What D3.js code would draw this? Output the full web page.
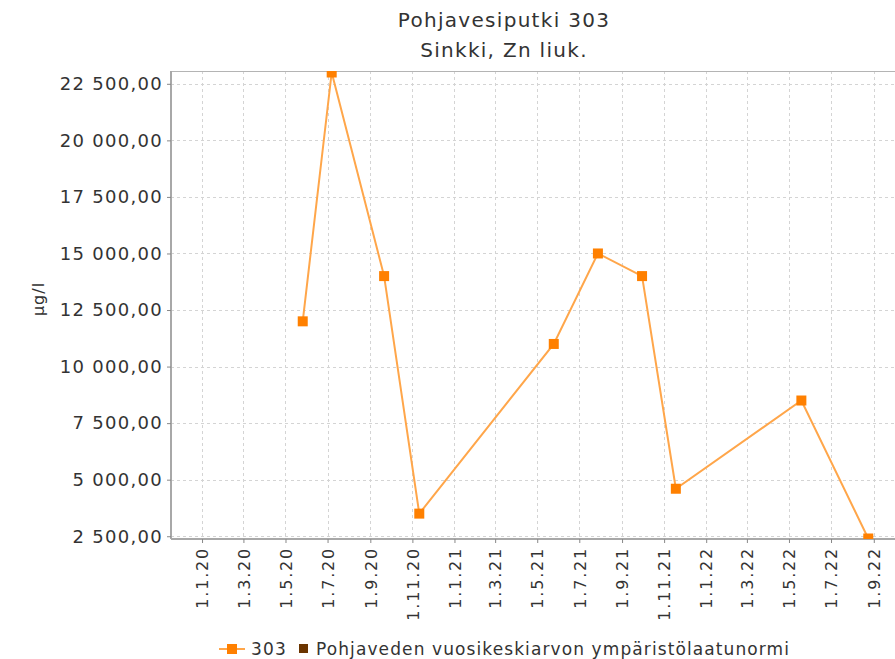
<!DOCTYPE html>
<html>
<head>
<meta charset="utf-8">
<script src="https://cdn.jsdelivr.net/npm/d3@7"></script>
<style>
  body { margin: 0; background: #fff; }
  text { font-family: "DejaVu Sans", sans-serif; fill: #333; }
</style>
</head>
<body>
<script>
// sample dates and measured zinc values (µg/l)
var sampleDates = ["2020-05-26", "2020-07-07", "2020-09-21", "2020-11-11", "2021-05-25",
                   "2021-07-28", "2021-09-30", "2021-11-18", "2022-05-19", "2022-08-24"]
var sampleValues = [12000, 23000, 14000, 3500, 11000, 15000, 14000, 4600, 8500, 2400]

var yTickValues = [2500, 5000, 7500, 10000, 12500, 15000, 17500, 20000, 22500]
var seriesName = "303"
var normName = "Pohjaveden vuosikeskiarvon ympäristölaatunormi"
var titleLines = ["Pohjavesiputki 303", "Sinkki, Zn liuk."]
var yLabel = "µg/l"

var showChart = function () {

  var w = 895
  var h = 659

  // plot area (the original chart is wider and is cropped on the right)
  var pLeft = 171, pTop = 71, pBottom = 539, pRight = 1000

  var parse = d3.timeParse("%Y-%m-%d")
  var data = sampleDates.map(function (d, i) { return { date: parse(d), value: sampleValues[i] } })

  var x = d3.scaleTime()
    .domain([parse("2019-11-17"), parse("2023-03-03")])
    .range([pLeft, pRight])

  var y = d3.scaleLinear()
    .domain([2400, 23000])
    .range([538.5, 72.5])

  var fi = d3.formatLocale({ decimal: ",", thousands: "\u00a0", grouping: [3], currency: ["", ""] })
  var yFmt = fi.format(",.2f")
  var xFmt = d3.timeFormat("%-d.%-m.%y")
  var xTickValues = d3.timeMonth.every(2).range(parse("2020-01-01"), parse("2022-10-01"))

  var svg = d3.select("body").append("svg")
    .attr("width", w)
    .attr("height", h)

  svg.append("defs").append("clipPath").attr("id", "plotclip")
    .append("rect")
    .attr("x", pLeft).attr("y", pTop)
    .attr("width", pRight - pLeft).attr("height", pBottom - pTop)

  // grid
  svg.append("g").selectAll("line")
    .data(yTickValues).enter().append("line")
    .attr("x1", pLeft).attr("x2", pRight)
    .attr("y1", function (d) { return Math.round(y(d)) + 0.5 })
    .attr("y2", function (d) { return Math.round(y(d)) + 0.5 })
    .attr("stroke", "#d4d4d4").attr("stroke-dasharray", "3,3")

  svg.append("g").selectAll("line")
    .data(xTickValues).enter().append("line")
    .attr("y1", pTop).attr("y2", pBottom)
    .attr("x1", function (d) { return Math.round(x(d)) + 0.5 })
    .attr("x2", function (d) { return Math.round(x(d)) + 0.5 })
    .attr("stroke", "#d4d4d4").attr("stroke-dasharray", "3,3")

  // top border of plot
  svg.append("line")
    .attr("x1", pLeft).attr("x2", pRight).attr("y1", pTop + 0.5).attr("y2", pTop + 0.5)
    .attr("stroke", "#b4b4b4").attr("stroke-width", 1)

  // axes
  var yAxis = d3.axisLeft(y).tickValues(yTickValues).tickFormat(yFmt)
    .tickSizeInner(4).tickSizeOuter(0).tickPadding(4)
  var gy = svg.append("g").attr("transform", "translate(" + pLeft + ",0)").call(yAxis)
  gy.select(".domain").attr("stroke", "#a8a8a8").attr("stroke-width", 2)
    .attr("d", "M0," + pTop + "V" + pBottom)
  gy.selectAll(".tick line").attr("stroke", "#888")
  gy.selectAll(".tick text")
    .attr("fill", "#333")
    .style("font-size", "18px")
    .style("letter-spacing", "1.3px")
    .style("font-family", "\"DejaVu Sans\", sans-serif")

  var xAxis = d3.axisBottom(x).tickValues(xTickValues).tickFormat(xFmt)
    .tickSizeInner(4).tickSizeOuter(0)
  var gx = svg.append("g").attr("transform", "translate(0," + pBottom + ")").call(xAxis)
  gx.select(".domain").attr("stroke", "#a8a8a8").attr("stroke-width", 2)
    .attr("d", "M" + pLeft + ",0H" + pRight)
  gx.selectAll(".tick line").attr("stroke", "#888")
  gx.selectAll(".tick text")
    .attr("fill", "#333")
    .attr("transform", "rotate(-90)")
    .attr("text-anchor", "end")
    .attr("x", -8).attr("y", 0).attr("dy", "0.36em")
    .style("font-size", "16px")
    .style("letter-spacing", "1.8px")
    .style("font-family", "\"DejaVu Sans\", sans-serif")

  // series
  var plot = svg.append("g").attr("clip-path", "url(#plotclip)")

  var line = d3.line()
    .x(function (d) { return x(d.date) })
    .y(function (d) { return y(d.value) })

  plot.append("path")
    .datum(data)
    .attr("d", line)
    .attr("fill", "none")
    .attr("stroke", "#ffa64a")
    .attr("stroke-width", 2)

  var ms = 10
  plot.selectAll("rect.pt")
    .data(data).enter().append("rect")
    .attr("class", "pt")
    .attr("x", function (d) { return x(d.date) - ms / 2 })
    .attr("y", function (d) { return y(d.value) - ms / 2 })
    .attr("width", ms).attr("height", ms)
    .attr("fill", "#ff8000")

  // titles
  svg.selectAll("text.title")
    .data(titleLines).enter().append("text")
    .attr("class", "title")
    .attr("x", 504)
    .attr("y", function (d, i) { return 27 + i * 30 })
    .attr("text-anchor", "middle")
    .style("font-size", "20px")
    .style("letter-spacing", "1.3px")
    .text(function (d) { return d })

  svg.append("text")
    .attr("transform", "translate(44," + ((pTop + pBottom) / 2 - 6) + ") rotate(-90)")
    .attr("text-anchor", "middle")
    .style("font-size", "16px")
    .style("letter-spacing", "1px")
    .text(yLabel)

  // legend
  var lg = svg.append("g").attr("transform", "translate(0,649)")
  lg.append("line").attr("x1", 219).attr("x2", 245).attr("y1", 0).attr("y2", 0)
    .attr("stroke", "#ffa64a").attr("stroke-width", 2)
  lg.append("rect").attr("x", 227).attr("y", -5).attr("width", 10).attr("height", 10)
    .attr("fill", "#ff8000")
  lg.append("text").attr("x", 251).attr("y", 6)
    .style("font-size", "17px").style("letter-spacing", "1.2px")
    .text(seriesName)
  lg.append("rect").attr("x", 299).attr("y", -5).attr("width", 9).attr("height", 9)
    .attr("fill", "#6b3500")
  lg.append("text").attr("x", 316).attr("y", 6)
    .style("font-size", "17px").style("letter-spacing", "1.1px")
    .text(normName)
}

showChart()
</script>
</body>
</html>
